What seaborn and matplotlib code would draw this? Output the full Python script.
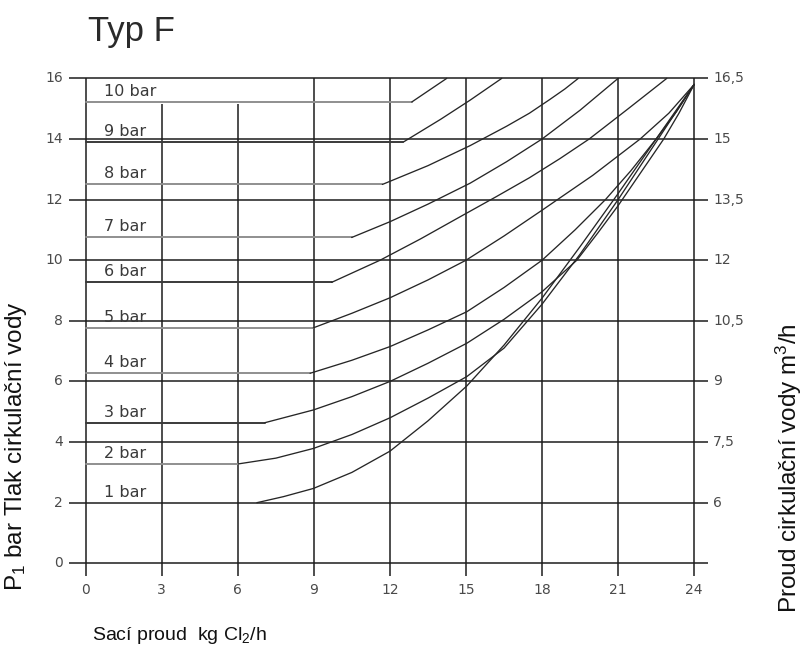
import matplotlib
matplotlib.use("Agg")
import matplotlib.pyplot as plt
import seaborn as sns
import pandas as pd

# Pressure levels of the circulating water
levels = ["1 bar", "2 bar", "3 bar", "4 bar", "5 bar",
          "6 bar", "7 bar", "8 bar", "9 bar", "10 bar"]

# Constant part of each characteristic (P1 value up to the break point)
flat_y = [2.0, 3.28, 4.64, 6.27, 7.77, 9.27, 10.75, 12.5, 13.9, 15.22]

# Rising part of each characteristic: suction flow (kg Cl2/h) and P1 (bar)
rise_x = [
    [6.75, 7.8, 8.98, 10.5, 12.0, 13.5, 15.03, 16.5, 18.0, 19.5, 21.0, 22.5, 24.0],
    [6.02, 7.5, 8.98, 10.5, 12.0, 13.5, 15.03, 16.5, 18.0, 19.5, 21.0, 22.5, 24.0],
    [7.07, 8.98, 10.5, 12.0, 13.5, 15.03, 16.5, 18.0, 19.37, 20.2, 21.0, 21.9,
     22.8, 23.4, 24.0],
    [8.85, 10.5, 12.0, 13.5, 15.03, 16.5, 18.0, 19.3, 20.5, 21.5, 22.5, 23.3, 24.0],
    [8.98, 10.5, 12.0, 13.5, 15.0, 16.5, 18.0, 20.0, 21.87, 23.0, 24.0],
    [9.70, 11.61, 13.2, 14.76, 16.2, 17.5, 18.7, 19.86, 21.4, 22.92],
    [10.49, 12.0, 13.5, 15.16, 16.6, 18.0, 19.5, 21.0],
    [11.7, 13.5, 15.16, 16.6, 17.5, 18.3, 18.9, 19.43],
    [12.53, 14.0, 15.16, 16.41],
    [12.86, 14.24],
]
rise_y = [
    [2.0, 2.2, 2.47, 3.0, 3.70, 4.7, 5.85, 7.2, 8.75, 10.45, 12.2, 14.0, 15.8],
    [3.28, 3.47, 3.79, 4.25, 4.8, 5.45, 6.16, 7.1, 8.55, 10.2, 12.0, 13.9, 15.8],
    [4.64, 5.06, 5.5, 6.0, 6.6, 7.26, 8.05, 8.96, 10.0, 10.9, 11.8, 12.9,
     14.0, 14.85, 15.8],
    [6.27, 6.7, 7.15, 7.7, 8.3, 9.1, 10.0, 11.0, 12.0, 12.95, 14.0, 14.9, 15.8],
    [7.77, 8.25, 8.76, 9.35, 10.0, 10.8, 11.65, 12.8, 14.0, 14.85, 15.8],
    [9.27, 10.0, 10.7, 11.43, 12.1, 12.72, 13.35, 14.0, 15.0, 16.0],
    [10.75, 11.27, 11.85, 12.54, 13.25, 14.0, 14.95, 16.0],
    [12.5, 13.12, 13.78, 14.42, 14.85, 15.3, 15.65, 16.0],
    [13.9, 14.65, 15.28, 16.0],
    [15.22, 16.0],
]

# Axis scales
x_ticks = [0, 3, 6, 9, 12, 15, 18, 21, 24]
y_ticks = [0, 2, 4, 6, 8, 10, 12, 14, 16]
right_labels = ["", "6", "7,5", "9", "10,5", "12", "13,5", "15", "16,5"]

sns.set_theme(style="white")
plt.rcParams["font.family"] = ["Liberation Sans", "DejaVu Sans"]
plt.rcParams["mathtext.fontset"] = "custom"
plt.rcParams["mathtext.rm"] = "Liberation Sans"
plt.rcParams["mathtext.it"] = "Liberation Sans:italic"

fig = plt.figure(figsize=(8.04, 6.55), dpi=100)
ax = fig.add_axes([0.0751, 0.0937, 0.8356, 0.8098])

grid_c = "#1c1c1c"
# horizontal grid, running out past both ends as ticks
ax.hlines(y_ticks, -0.66, 24.55, color=grid_c, lw=1.1, zorder=1)
# vertical grid; the 3 and 6 lines stop below the 10 bar line
tops = [15.15 if v in (3, 6) else 16.0 for v in x_ticks]
ax.vlines(x_ticks, -0.42, tops, color=grid_c, lw=1.1, zorder=1)

# build long tables for seaborn
flat_rows = []
rise_rows = []
for lvl, fy, xs, ys in zip(levels, flat_y, rise_x, rise_y):
    if lvl != "1 bar":
        flat_rows.append({"level": lvl, "x": 0.0, "y": fy})
        flat_rows.append({"level": lvl, "x": xs[0], "y": fy})
    for x, y in zip(xs, ys):
        rise_rows.append({"level": lvl, "x": x, "y": y})
flat_df = pd.DataFrame(flat_rows)
rise_df = pd.DataFrame(rise_rows)

# the constant segments print in two tones
flat_palette = {"2 bar": "#8f8f8f", "3 bar": "#3a3a3a", "4 bar": "#8f8f8f",
                "5 bar": "#8f8f8f", "6 bar": "#3a3a3a", "7 bar": "#8f8f8f",
                "8 bar": "#8f8f8f", "9 bar": "#3a3a3a", "10 bar": "#8f8f8f"}
sns.lineplot(data=flat_df, x="x", y="y", hue="level", palette=flat_palette,
             units="level", estimator=None, lw=1.4, ax=ax, zorder=2,
             legend=False)
sns.lineplot(data=rise_df, x="x", y="y", units="level", estimator=None,
             color="#262626", lw=0.95, ax=ax, zorder=3)
ax.set_xlim(-1.0, 25.5)
ax.set_ylim(-1.0, 16.5)
ax.axis("off")

# pressure labels above each constant segment
for lvl, fy in zip(levels, flat_y):
    ax.text(0.72, fy + 0.2, lvl, fontsize=11.5, color="#3a3a3a",
            family="DejaVu Sans", ha="left", va="baseline")

tick_c = "#4a4a4a"
tick_kw = dict(fontsize=10, color=tick_c, family="DejaVu Sans")
for v in y_ticks:
    ax.text(-0.9, v, str(v), ha="right", va="center", **tick_kw)
for v, lab in zip(y_ticks, right_labels):
    ax.text(24.75, v, lab, ha="left", va="center", **tick_kw)
for v in x_ticks:
    ax.text(v, -0.88, str(v), ha="center", va="center", **tick_kw)

fig.text(88 / 804, 1 - 41 / 655, "Typ F", fontsize=25, color="#2a2a2a",
         ha="left", va="baseline")
fig.text(92 / 804, 1 - 640 / 655, "Sací proud  kg Cl$_{\\mathregular{2}}$/h",
         fontsize=14, color="#111111", ha="left", va="baseline")
fig.text(16 / 804, 1 - 446 / 655, "P$_{\\mathregular{1}}$ bar Tlak cirkulační vody",
         fontsize=17.5, color="#111111", rotation=90, ha="center", va="center")
fig.text(789 / 804, 1 - 468 / 655, "Proud cirkulační vody m$^{\\mathregular{3}}$/h",
         fontsize=17.5, color="#111111", rotation=90, ha="center", va="center")

fig.savefig("out.png", dpi=100, facecolor="white")
